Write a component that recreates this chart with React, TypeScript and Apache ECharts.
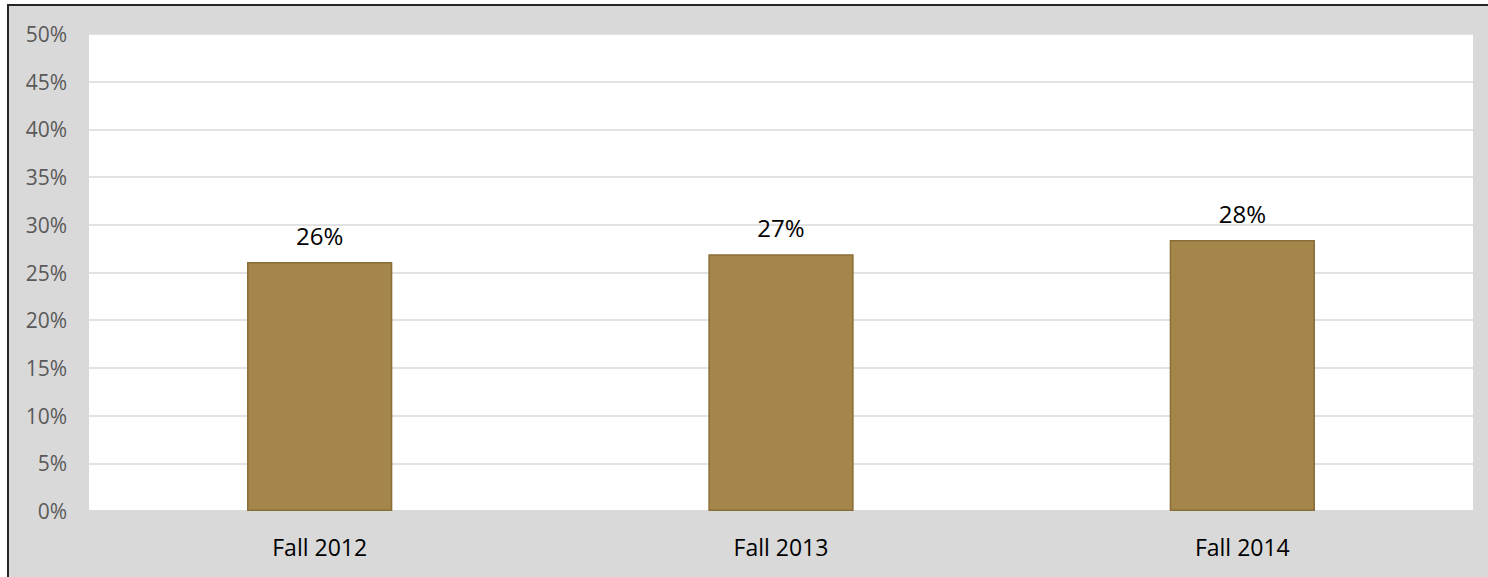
import React, { useEffect, useRef } from "react";
import * as echarts from "echarts";

const categories = ["Fall 2012", "Fall 2013", "Fall 2014"];
const values = [26.1, 26.9, 28.4];
const yTicks = { min: 0, max: 50, interval: 5 };

export default function App() {
  const ref = useRef<HTMLDivElement>(null);
  useEffect(() => {
    if (!ref.current) return;
    const chart = echarts.init(ref.current, undefined, { renderer: "svg" });
    chart.setOption({
      animation: false,
      grid: {
        left: 89,
        top: 34,
        right: 15,
        bottom: 66,
        show: true,
        backgroundColor: "#ffffff",
        borderWidth: 0,
      },
      xAxis: {
        type: "category",
        data: categories,
        axisTick: { show: false },
        axisLine: { lineStyle: { color: "#d9d9d9", width: 1.5 } },
        axisLabel: {
          color: "#000000",
          fontSize: 23,
          fontFamily: "Open Sans",
          margin: 24,
        },
      },
      yAxis: {
        type: "value",
        min: yTicks.min,
        max: yTicks.max,
        interval: yTicks.interval,
        axisLine: { show: false },
        axisTick: { show: false },
        splitLine: { lineStyle: { color: "#d9d9d9", width: 1.5 } },
        axisLabel: {
          color: "#595959",
          fontSize: 21,
          fontFamily: "Open Sans",
          margin: 22,
          formatter: (v: number) => `${v}%`,
        },
      },
      series: [
        {
          type: "bar",
          data: values,
          barWidth: "31.5%",
          itemStyle: { color: "#a5864a", borderColor: "#8a6e38", borderWidth: 1.5 },
          label: {
            show: true,
            position: "top",
            distance: 15,
            color: "#000000",
            fontSize: 24,
            fontFamily: "Open Sans",
            formatter: (p: any) => `${Math.round(p.value)}%`,
          },
        },
      ],
    });
    return () => chart.dispose();
  }, []);
  return (
    <div style={{ position: "fixed", left: 0, top: 0, width: 1488, height: 577, overflow: "hidden", background: "#ffffff" }}>
      <div
        style={{
          position: "absolute",
          left: 7,
          top: 4,
          width: 1500,
          height: 600,
          background: "#d9d9d9",
          borderTop: "2px solid #262626",
          borderLeft: "2px solid #262626",
        }}
      />
      <div ref={ref} style={{ position: "absolute", left: 0, top: 0, width: 1488, height: 577 }} />
    </div>
  );
}
